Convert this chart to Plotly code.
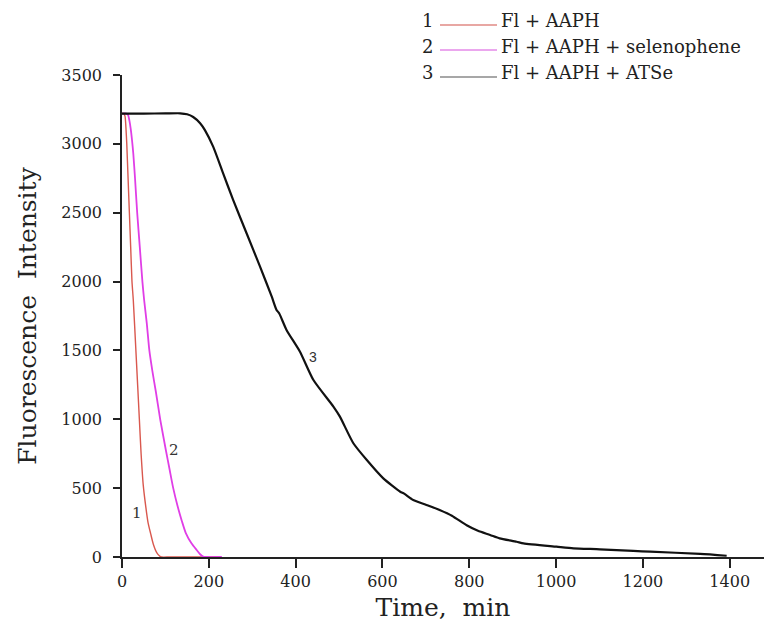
import plotly.graph_objects as go

# Curve 1: Fl + AAPH
t1 = [0, 4, 7, 9, 11, 14, 17, 20, 23, 26, 32, 36, 40, 44, 49, 55, 60, 66, 72, 80, 86, 91, 110, 228]
f1 = [3220, 3220, 3200, 3120, 3000, 2750, 2500, 2250, 2000, 1866, 1500, 1250, 1000, 750, 520, 360, 250, 170, 95, 32, 9, 0, 0, 0]

# Curve 2: Fl + AAPH + selenophene
t2 = [0, 10, 14, 17, 20, 23, 26, 30, 35, 41, 47, 51, 57, 63, 70, 78, 88, 101, 110, 118, 128, 138, 147, 160, 172, 180, 187, 195, 230]
f2 = [3220, 3220, 3210, 3170, 3110, 3030, 2930, 2750, 2500, 2250, 2000, 1866, 1700, 1500, 1350, 1200, 1000, 777, 630, 500, 370, 260, 174, 100, 51, 20, 3, 0, 0]

# Curve 3: Fl + AAPH + ATSe
t3 = [0, 50, 100, 134, 150, 164, 180, 191, 210, 233, 256, 287, 318, 345, 356, 362, 379, 410, 441, 487, 502, 533, 564, 602, 641, 650, 671, 700, 733, 760, 794, 820, 848, 870, 909, 925, 1001, 1040, 1101, 1178, 1217, 1332, 1393]
f3 = [3220, 3220, 3221, 3222, 3215, 3195, 3150, 3100, 2980, 2786, 2593, 2351, 2108, 1890, 1794, 1770, 1649, 1491, 1285, 1092, 1019, 826, 704, 571, 474, 460, 414, 380, 340, 300, 230, 190, 160, 135, 111, 99, 75, 63, 56, 44, 39, 22, 9]

legend_nums = ["1", "2", "3"]
legend_texts = ["Fl + AAPH", "Fl + AAPH + selenophene", "Fl + AAPH + ATSe"]
legend_colors = ["#e08a84", "#e58ae8", "#8a8a8a"]

x_ticks = [0, 200, 400, 600, 800, 1000, 1200, 1400]
y_ticks = [0, 500, 1000, 1500, 2000, 2500, 3000, 3500]

SERIF = "DejaVu Serif"

fig = go.Figure()
fig.add_trace(go.Scatter(x=t1, y=f1, mode="lines", line=dict(color="#d9584e", width=1.4, shape="spline", smoothing=0.6), showlegend=False))
fig.add_trace(go.Scatter(x=t2, y=f2, mode="lines", line=dict(color="#e03ee6", width=1.8, shape="spline", smoothing=0.6), showlegend=False))
fig.add_trace(go.Scatter(x=t3, y=f3, mode="lines", line=dict(color="#111111", width=2.2, shape="spline", smoothing=0.6), showlegend=False))

# curve labels
fig.add_annotation(x=34, y=317, text="1", showarrow=False, font=dict(family=SERIF, size=15, color="#333"))
fig.add_annotation(x=120, y=777, text="2", showarrow=False, font=dict(family=SERIF, size=15, color="#333"))
fig.add_annotation(x=441, y=1455, text="3", showarrow=False, font=dict(family="Liberation Sans", size=14, color="#333"))

# legend drawn in paper coordinates
W, H, L, T = 642, 482, 122, 75
def px(xp):
    return (xp - L) / W
def py(yp):
    return (T + H - yp) / H

rows_y = [21, 46, 72]
line_y = [25, 50, 77]
for i in range(3):
    fig.add_annotation(xref="paper", yref="paper", x=px(427), y=py(rows_y[i]), text=legend_nums[i],
                       showarrow=False, xanchor="center", yanchor="middle",
                       font=dict(family=SERIF, size=18, color="#222"))
    fig.add_shape(type="line", xref="paper", yref="paper", x0=px(440), x1=px(497),
                  y0=py(line_y[i]), y1=py(line_y[i]), line=dict(color=legend_colors[i], width=1.5))
    fig.add_annotation(xref="paper", yref="paper", x=px(499), y=py(rows_y[i]), text=legend_texts[i],
                       showarrow=False, xanchor="left", yanchor="middle",
                       font=dict(family=SERIF, size=18, color="#222"))

fig.update_layout(
    width=764, height=628,
    margin=dict(l=L, r=0, t=T, b=628 - T - H),
    paper_bgcolor="white", plot_bgcolor="white",
    showlegend=False,
    font=dict(family=SERIF, color="#222"),
    xaxis=dict(range=[0, 1479], tickvals=x_ticks, ticktext=[str(v) for v in x_ticks],
               showline=True, linecolor="#222", linewidth=1.6, ticks="outside", ticklen=9,
               tickwidth=1.6, tickcolor="#222", showgrid=False, zeroline=False,
               tickfont=dict(family=SERIF, size=16, color="#222"),
               title=dict(text="Time,\u00a0 min", font=dict(family=SERIF, size=25, color="#222"), standoff=8)),
    yaxis=dict(range=[0, 3500], tickvals=y_ticks, ticktext=[str(v) for v in y_ticks],
               showline=True, linecolor="#222", linewidth=1.6, ticks="outside", ticklen=7,
               tickwidth=1.6, tickcolor="#222", showgrid=False, zeroline=False,
               ticklabelstandoff=8,
               tickfont=dict(family=SERIF, size=16, color="#222"),
               title=dict(text="Fluorescence\u00a0 Intensity", font=dict(family=SERIF, size=25, color="#222"), standoff=18)),
)

fig.write_html("out.html")
